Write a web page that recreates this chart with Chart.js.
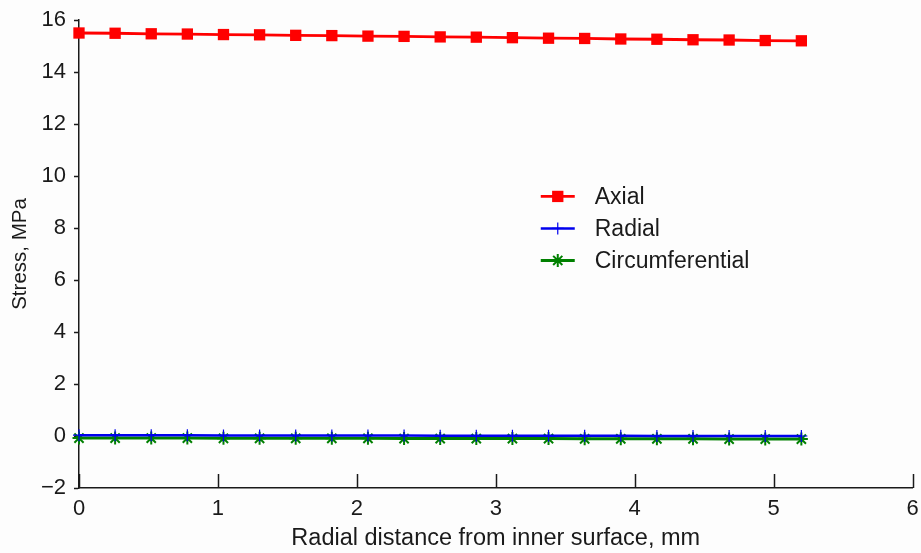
<!DOCTYPE html>
<html>
<head>
<meta charset="utf-8">
<script src="https://cdn.jsdelivr.net/npm/chart.js@4.4.1/dist/chart.umd.min.js"></script>
<style>
  html, body { margin: 0; padding: 0; background: #fdfdfd; }
  #wrap { width: 921px; height: 553px; }
</style>
</head>
<body>
<div id="wrap"><canvas id="myChart" width="921" height="553"></canvas></div>
<script>
// radial positions (mm) and stresses (MPa)
var RADIUS = [0, 0.26, 0.52, 0.78, 1.04, 1.3, 1.56, 1.82, 2.08, 2.34, 2.6, 2.86, 3.12, 3.38, 3.64, 3.9, 4.16, 4.42, 4.68, 4.94, 5.2]
var AXIAL = [15.5, 15.49, 15.47, 15.46, 15.44, 15.43, 15.41, 15.4, 15.38, 15.37, 15.35, 15.34, 15.32, 15.3, 15.29, 15.27, 15.26, 15.24, 15.23, 15.21, 15.2]
var RADIAL = [0.03, 0.03, 0.03, 0.03, 0.02, 0.02, 0.02, 0.02, 0.02, 0.02, 0.01, 0.01, 0.01, 0.01, 0.01, 0.01, 0.0, 0.0, 0.0, 0.0, 0.0]
var CIRCUM = [-0.08, -0.08, -0.08, -0.08, -0.09, -0.09, -0.09, -0.09, -0.09, -0.1, -0.1, -0.1, -0.1, -0.1, -0.11, -0.11, -0.11, -0.11, -0.12, -0.12, -0.12]
var X_TICKS = [0, 1, 2, 3, 4, 5, 6]
var Y_TICKS = [-2, 0, 2, 4, 6, 8, 10, 12, 14, 16]
var SERIES = ["Axial", "Radial", "Circumferential"]

var FONT = "'Liberation Sans', Arial, sans-serif"
var INK = '#1a1a1a'

function pairs(ys) {
  return RADIUS.map(function(x, i) { return { x: x, y: ys[i] } })
}

function noPadding() {
  return { left: 0, right: 0, top: 0, bottom: 0 }
}

// x ticks point up into the plot, so draw them ourselves
const inwardTicks = {
  id: 'inwardTicks',
  afterDraw(chart) {
    const ctx = chart.ctx
    const xs = chart.scales.x
    const bottom = chart.chartArea.bottom
    ctx.save()
    ctx.strokeStyle = INK
    ctx.lineWidth = 1.5
    X_TICKS.forEach(function(v) {
      const px = Math.round(xs.getPixelForValue(v)) + 0.5
      ctx.beginPath()
      ctx.moveTo(px, bottom)
      ctx.lineTo(px, bottom - 14)
      ctx.stroke()
    })
    ctx.restore()
  }
}

// legend sitting inside the plot, matlab style
const boxLegend = {
  id: 'boxLegend',
  afterDraw(chart) {
    const ctx = chart.ctx
    const a = chart.chartArea
    const x0 = a.left + (a.right - a.left) * 0.554
    const x1 = x0 + 34
    const tx = x1 + 20
    const rowY = [a.top + (a.bottom - a.top) * 0.377]
    rowY.push(rowY[0] + 32)
    rowY.push(rowY[0] + 64)
    ctx.save()
    chart.data.datasets.forEach(function(ds, i) {
      const y = rowY[i]
      ctx.strokeStyle = ds.borderColor
      ctx.lineWidth = ds.borderWidth
      ctx.beginPath()
      ctx.moveTo(x0, y)
      ctx.lineTo(x1, y)
      ctx.stroke()
      ctx.fillStyle = ds.pointBackgroundColor
      ctx.strokeStyle = ds.pointBorderColor
      ctx.lineWidth = ds.pointBorderWidth
      Chart.helpers.drawPoint(ctx, { pointStyle: ds.pointStyle, radius: ds.pointRadius, rotation: 0, borderWidth: ds.pointBorderWidth }, (x0 + x1) / 2, y)
      ctx.fillStyle = INK
      ctx.font = '23px ' + FONT
      ctx.textBaseline = 'middle'
      ctx.fillText(SERIES[i], tx, y + 1)
    })
    ctx.restore()
  }
}

const data = {
  datasets: [{
    label: SERIES[0],
    data: pairs(AXIAL),
    borderColor: '#ff0000',
    backgroundColor: '#ff0000',
    borderWidth: 2.8,
    pointStyle: 'rect',
    pointRadius: 8,
    pointBackgroundColor: '#ff0000',
    pointBorderColor: '#ff0000',
    pointBorderWidth: 0
  }, {
    label: SERIES[1],
    data: pairs(RADIAL),
    borderColor: '#0000ee',
    backgroundColor: '#0000ee',
    borderWidth: 2.5,
    pointStyle: 'cross',
    pointRadius: 6,
    pointBackgroundColor: '#0000ee',
    pointBorderColor: '#0000ee',
    pointBorderWidth: 1.2
  }, {
    label: SERIES[2],
    data: pairs(CIRCUM),
    borderColor: '#008000',
    backgroundColor: '#008000',
    borderWidth: 3,
    pointStyle: 'star',
    pointRadius: 6.5,
    pointBackgroundColor: '#008000',
    pointBorderColor: '#008000',
    pointBorderWidth: 2
  }]
}

const config = {
  type: 'line',
  data: data,
  plugins: [inwardTicks, boxLegend],
  options: {
    responsive: false,
    animation: false,
    clip: false,
    layout: { padding: { top: 20, right: 5, left: 0, bottom: 0 } },
    plugins: {
      legend: { display: false },
      tooltip: { enabled: false }
    },
    elements: { line: { tension: 0 } },
    scales: {
      x: {
        type: 'linear',
        min: 0,
        max: 6,
        afterBuildTicks: function(s) { s.ticks = X_TICKS.map(function(v) { return { value: v } }) },
        afterFit: function(s) { s.height = 65; s.paddingLeft = 0; s.paddingRight = 0; s.getPadding = noPadding },
        grid: { drawOnChartArea: false, drawTicks: false },
        border: { display: true, color: INK, width: 1.5 },
        ticks: { color: INK, font: { family: FONT, size: 22 }, padding: 8, maxRotation: 0 },
        title: {
          display: true,
          text: 'Radial distance from inner surface, mm',
          color: INK,
          font: { family: FONT, size: 23.5 },
          padding: { top: 3, bottom: 0 }
        }
      },
      y: {
        type: 'linear',
        min: -2,
        max: 16,
        afterBuildTicks: function(s) { s.ticks = Y_TICKS.map(function(v) { return { value: v } }) },
        afterFit: function(s) { s.width = 79; s.paddingTop = 0; s.paddingBottom = 0; s.getPadding = noPadding },
        grid: { drawOnChartArea: false, drawTicks: true, tickLength: 5, color: INK, tickWidth: 1.5 },
        border: { display: true, color: INK, width: 1.5 },
        ticks: {
          color: INK,
          font: { family: FONT, size: 22 },
          padding: 8,
          callback: function(v) { return String(v).replace('-', '\u2212') }
        },
        title: {
          display: true,
          text: 'Stress, MPa',
          color: INK,
          font: { family: FONT, size: 20.5 },
          padding: { top: 8, bottom: 0 }
        }
      }
    }
  }
}

var myChart = new Chart(document.getElementById('myChart'), config)
</script>
</body>
</html>
